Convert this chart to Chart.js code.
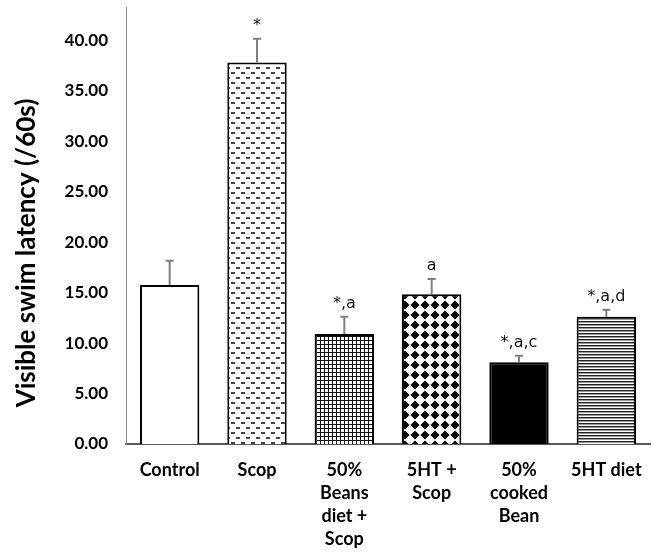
<!DOCTYPE html>
<html>
<head>
<meta charset="utf-8">
<script src="https://cdn.jsdelivr.net/npm/chart.js@4.4.0/dist/chart.umd.min.js"></script>
<style>
  html, body { margin: 0; padding: 0; background: #fff; }
</style>
</head>
<body>
<canvas id="chart" width="654" height="554"></canvas>
<script>
// values
const groups = [['Control'], ['Scop'], ['50%', 'Beans', 'diet +', 'Scop'], ['5HT +', 'Scop'], ['50%', 'cooked', 'Bean'], ['5HT diet']];
const latency = [15.75, 37.8, 10.9, 14.85, 8.1, 12.6];
const sem = [2.4, 2.35, 1.7, 1.5, 0.65, 0.7];
const marks = ['', '*', '*,a', 'a', '*,a,c', '*,a,d'];
const yTicks = [0, 5, 10, 15, 20, 25, 30, 35, 40];
const yTitle = 'Visible swim latency (/60s)';

// small tiles for the bar fills
function makePattern(w, h, draw) {
  const c = document.createElement('canvas');
  c.width = w;
  c.height = h;
  const g = c.getContext('2d');
  g.fillStyle = '#fff';
  g.fillRect(0, 0, w, h);
  draw(g);
  return g.createPattern(c, 'repeat');
}

const dashes = makePattern(10, 10, (g) => {
  g.fillStyle = '#444';
  g.fillRect(1, 2, 4, 2);
  g.fillRect(6, 7, 4, 2);
});
const grid = makePattern(4, 4, (g) => {
  g.fillStyle = '#111';
  g.fillRect(0, 0, 4, 1);
  g.fillRect(0, 0, 1, 4);
});
const diamonds = makePattern(10, 10, (g) => {
  g.fillStyle = '#000';
  g.beginPath();
  g.moveTo(5, 0.5);
  g.lineTo(9.5, 5);
  g.lineTo(5, 9.5);
  g.lineTo(0.5, 5);
  g.closePath();
  g.fill();
});
const stripes = makePattern(4, 3, (g) => {
  g.fillStyle = '#222';
  g.fillRect(0, 0, 4, 1);
  g.fillStyle = '#999';
  g.fillRect(0, 1, 4, 1);
});

const fills = ['#fff', dashes, grid, diamonds, '#000', stripes];

// error bars, significance letters and the rotated axis title
const overlay = {
  id: 'overlay',
  afterDatasetsDraw(chart) {
    const ctx = chart.ctx;
    const y = chart.scales.y;
    const meta = chart.getDatasetMeta(0);
    ctx.save();
    meta.data.forEach((bar, i) => {
      const base = y.getPixelForValue(latency[i]);
      const top = y.getPixelForValue(latency[i] + sem[i]);
      ctx.strokeStyle = '#808080';
      ctx.lineWidth = 2;
      ctx.beginPath();
      ctx.moveTo(bar.x, base);
      ctx.lineTo(bar.x, top);
      ctx.moveTo(bar.x - 4, top);
      ctx.lineTo(bar.x + 4, top);
      ctx.stroke();
      if (marks[i]) {
        ctx.fillStyle = '#111';
        ctx.font = '16px "DejaVu Sans"';
        ctx.textAlign = 'center';
        ctx.textBaseline = 'alphabetic';
        ctx.fillText(marks[i], bar.x, top - 9);
      }
    });
    ctx.translate(27, 253);
    ctx.rotate(-Math.PI / 2);
    ctx.font = 'bold 26px Lato';
    ctx.fillStyle = '#000';
    ctx.textAlign = 'center';
    ctx.textBaseline = 'middle';
    ctx.fillText(yTitle, 0, 0);
    ctx.restore();
  }
};

new Chart(document.getElementById('chart'), {
  type: 'bar',
  data: {
    labels: groups,
    datasets: [{
      data: latency,
      backgroundColor: fills,
      borderColor: '#000',
      borderWidth: 2,
      barPercentage: 0.68,
      categoryPercentage: 1
    }]
  },
  options: {
    responsive: false,
    animation: false,
    layout: { padding: { top: 7, right: 4, left: 0, bottom: 0 } },
    plugins: {
      legend: { display: false },
      tooltip: { enabled: false }
    },
    scales: {
      x: {
        grid: { display: false, drawTicks: false },
        border: { display: true, color: '#595959', width: 2 },
        ticks: {
          color: '#000',
          font: { family: 'Lato', size: 18, weight: 'bold', lineHeight: 1.28 },
          padding: 15,
          maxRotation: 0,
          autoSkip: false
        },
        afterFit(scale) {
          scale.height = 110;
          scale.paddingLeft = 0;
          scale.paddingRight = 0;
        }
      },
      y: {
        min: 0,
        max: 43.3,
        grid: { display: false, drawTicks: false },
        border: { display: true, color: '#8c8c8c', width: 1 },
        afterBuildTicks(scale) {
          scale.ticks = yTicks.map((v) => ({ value: v }));
        },
        ticks: {
          color: '#000',
          font: { family: 'Lato', size: 17, weight: 'bold' },
          padding: 18,
          callback: (v) => Number(v).toFixed(2)
        },
        afterFit(scale) {
          scale.width = 126;
          scale.paddingTop = 0;
          scale.paddingBottom = 0;
        }
      }
    }
  },
  plugins: [overlay]
});
</script>
</body>
</html>
